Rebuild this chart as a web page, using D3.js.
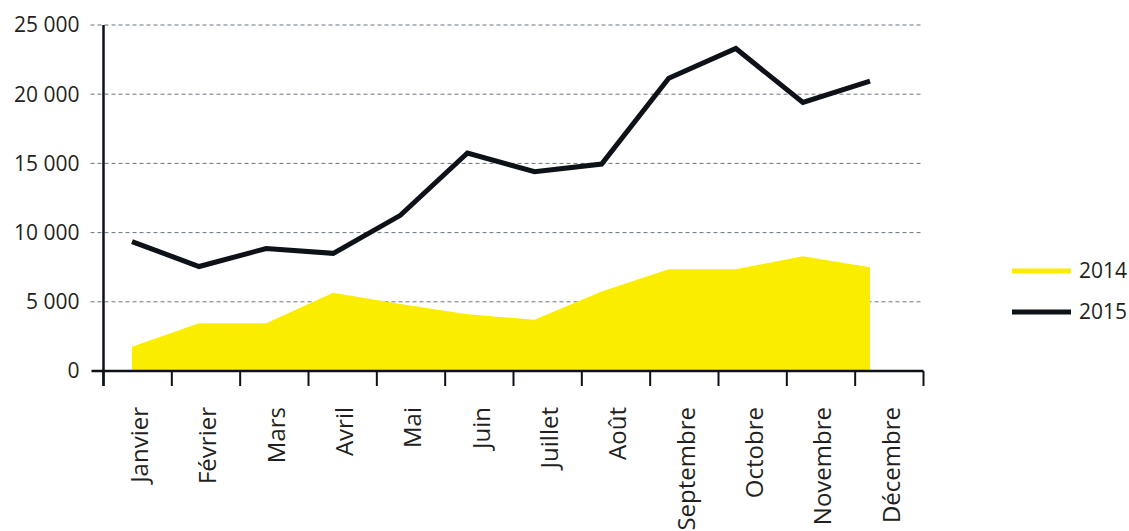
<!DOCTYPE html>
<html>
<head>
<meta charset="utf-8">
<script src="https://cdn.jsdelivr.net/npm/d3@7"></script>
<style>
  body { margin: 0; background: #fff; }
  text { font-family: "Open Sans", "Noto Sans", sans-serif; fill: #231f20; }
</style>
</head>
<body>
<div id="chart"></div>
<script>
// months on the x axis
var months = ["Janvier", "Février", "Mars", "Avril", "Mai", "Juin", "Juillet",
              "Août", "Septembre", "Octobre", "Novembre", "Décembre"];
// 2014 series (yellow area)
var values2014 = [1750, 3450, 3450, 5650, 4850, 4100, 3700, 5750, 7350, 7350, 8300, 7500];
// 2015 series (black line)
var values2015 = [9350, 7550, 8850, 8500, 11250, 15750, 14400, 14950, 21150, 23300, 19400, 20950];
var yTicks = [0, 5000, 10000, 15000, 20000, 25000];
var legendItems = ["2014", "2015"];

var W = 1129, H = 531;
var margin = { top: 25, left: 103.5 };
var width = 820, height = 346;
var yellow = "#faed00", dark = "#0d1118";

var svg = d3.select("#chart").append("svg")
    .attr("width", W)
    .attr("height", H);

var g = svg.append("g")
    .attr("transform", "translate(" + margin.left + "," + margin.top + ")");

var xBand = d3.scaleBand().domain(months).range([0, width]).padding(0);
// the data points sit slightly inside the bands in the original
var xPoint = d3.scalePoint().domain(months).range([28.5, 766.5]);
var y = d3.scaleLinear().domain([0, 25000]).range([height, 0]);

// dashed gridlines
g.selectAll(".grid")
    .data(yTicks.filter(function(d) { return d > 0; }))
    .enter().append("line")
    .attr("x1", -13).attr("x2", width)
    .attr("y1", function(d) { return y(d); })
    .attr("y2", function(d) { return y(d); })
    .attr("stroke", "#6b7580")
    .attr("stroke-width", 1)
    .attr("stroke-dasharray", "4,3");

// y labels
g.selectAll(".ylab")
    .data(yTicks)
    .enter().append("text")
    .attr("x", -24)
    .attr("y", function(d) { return y(d); })
    .attr("dy", "0.35em")
    .attr("text-anchor", "end")
    .style("font-size", "21px")
    .text(function(d) { return d3.format(",")(d).replace(/,/g, " "); });

// 2014 area
var area = d3.area()
    .x(function(d, i) { return xPoint(months[i]); })
    .y0(y(0))
    .y1(function(d) { return y(d); });

g.append("path")
    .datum(values2014)
    .attr("d", area)
    .attr("fill", yellow);

// 2015 line
var line = d3.line()
    .x(function(d, i) { return xPoint(months[i]); })
    .y(function(d) { return y(d); });

g.append("path")
    .datum(values2015)
    .attr("d", line)
    .attr("fill", "none")
    .attr("stroke", dark)
    .attr("stroke-width", 5)
    .attr("stroke-linejoin", "miter");

// axes
g.append("line")
    .attr("x1", -12).attr("x2", width)
    .attr("y1", y(0)).attr("y2", y(0))
    .attr("stroke", dark).attr("stroke-width", 2.5);

g.append("line")
    .attr("x1", 0).attr("x2", 0)
    .attr("y1", 0).attr("y2", height + 15)
    .attr("stroke", dark).attr("stroke-width", 2.5);

var edges = months.map(function(m) { return xBand(m); }).concat([width]);
g.selectAll(".xtick")
    .data(edges)
    .enter().append("line")
    .attr("x1", function(d) { return d; })
    .attr("x2", function(d) { return d; })
    .attr("y1", height).attr("y2", height + 15)
    .attr("stroke", dark).attr("stroke-width", 2);

// month labels, rotated
g.selectAll(".xlab")
    .data(months)
    .enter().append("text")
    .attr("transform", function(d) {
        return "translate(" + (xBand(d) + xBand.bandwidth() / 2 + 2) + "," + (height + 36) + ") rotate(-90)";
    })
    .attr("dy", "0.35em")
    .attr("text-anchor", "end")
    .style("font-size", "24px")
    .text(function(d) { return d; });

// legend
var legend = svg.selectAll(".legend")
    .data(legendItems)
    .enter().append("g")
    .attr("transform", function(d, i) { return "translate(1012," + (271 + i * 41) + ")"; });

legend.append("line")
    .attr("x1", 0).attr("x2", 59)
    .attr("stroke", function(d, i) { return i === 0 ? yellow : dark; })
    .attr("stroke-width", 5);

legend.append("text")
    .attr("x", 67)
    .attr("dy", "0.35em")
    .style("font-size", "21px")
    .text(function(d) { return d; });
</script>
</body>
</html>
